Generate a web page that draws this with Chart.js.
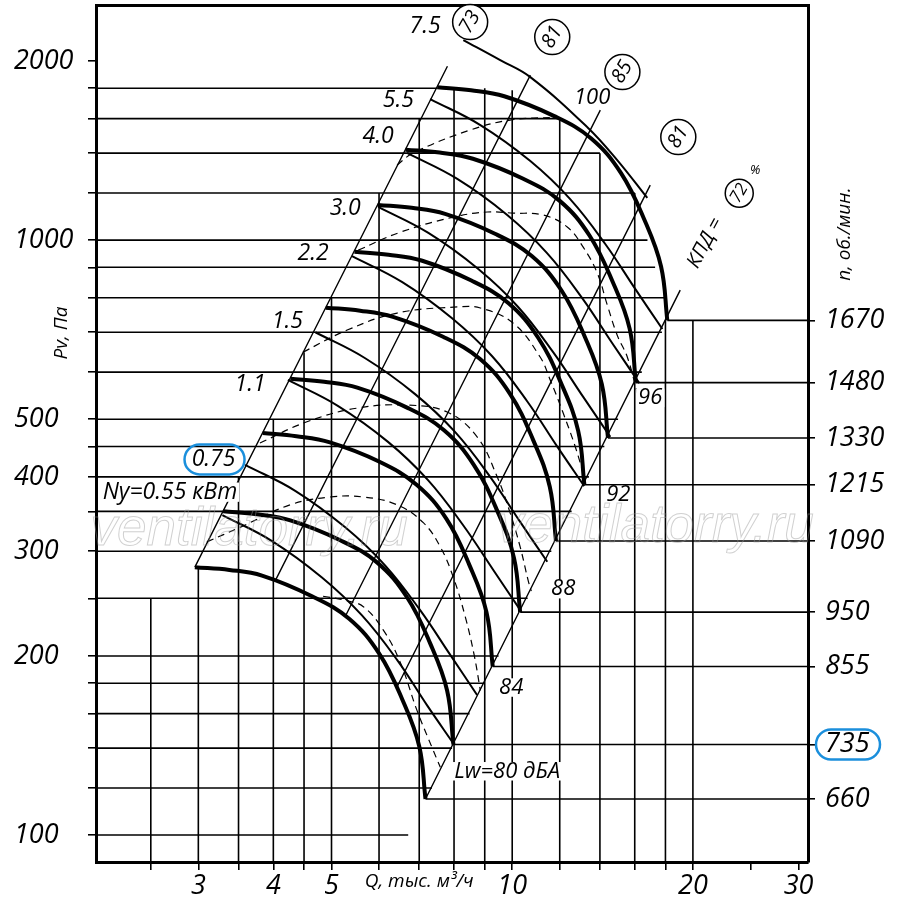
<!DOCTYPE html>
<html>
<head>
<meta charset="utf-8">
<script src="https://cdn.jsdelivr.net/npm/chart.js@4.4.1/dist/chart.umd.min.js"></script>
<style>
  html, body { margin: 0; padding: 0; background: #fff; }
  #wrap { width: 900px; height: 902px; }
</style>
</head>
<body>
<div id="wrap"><canvas id="fanChart" width="900" height="902"></canvas></div>
<script>
// axis ranges (Q, тыс. м3/ч and Pv, Па)
const QMIN = 2.026, QMAX = 31.1;
const PMIN = 90.1, PMAX = 2484;

// tick values
const xTicks = [2.5, 3, 3.5, 4, 4.5, 5, 6, 7, 8, 9, 10, 12, 14, 16, 18, 20, 25, 30];
const xLabels = [3, 4, 5, 10, 20, 30];
const yTicks = [100, 120, 140, 160, 180, 200, 250, 300, 350, 400, 450, 500, 600, 700, 800, 900, 1000, 1200, 1400, 1600, 1800, 2000];
const yLabels = [100, 200, 300, 400, 500, 1000, 2000];

// fan speeds, об./мин.
const rpm = [660, 735, 855, 950, 1090, 1215, 1330, 1480, 1670];

// fan curves Pv(Q) for each speed
const q660 = [2.96, 3.38, 3.83, 4.64, 5.35, 6.00, 6.56, 7.00, 7.17];
const p660 = [282, 279, 273, 252, 231, 202, 169, 141, 115];
const q735 = [3.30, 3.76, 4.27, 5.17, 5.96, 6.68, 7.30, 7.79, 7.98];
const p735 = [350, 346, 338, 313, 287, 251, 210, 175, 142];
const q855 = [3.84, 4.37, 4.97, 6.01, 6.93, 7.77, 8.49, 9.06, 9.28];
const p855 = [474, 468, 457, 424, 388, 340, 284, 237, 192];
const q950 = [4.27, 4.86, 5.52, 6.68, 7.70, 8.63, 9.44, 10.07, 10.31];
const p950 = [585, 578, 565, 523, 479, 419, 351, 292, 237];
const q1090 = [4.89, 5.58, 6.33, 7.67, 8.84, 9.91, 10.83, 11.55, 11.83];
const p1090 = [770, 761, 743, 688, 631, 552, 462, 385, 312];
const q1215 = [5.46, 6.22, 7.06, 8.55, 9.85, 11.04, 12.07, 12.88, 13.19];
const p1215 = [956, 945, 924, 855, 784, 686, 574, 478, 388];
const q1330 = [5.97, 6.80, 7.73, 9.36, 10.78, 12.09, 13.21, 14.10, 14.44];
const p1330 = [1146, 1133, 1107, 1025, 940, 822, 688, 573, 465];
const q1480 = [6.64, 7.57, 8.60, 10.41, 12.00, 13.45, 14.70, 15.69, 16.07];
const p1480 = [1419, 1403, 1370, 1269, 1164, 1018, 851, 710, 576];
const q1670 = [7.50, 8.54, 9.70, 11.75, 13.54, 15.18, 16.59, 17.70, 18.13];
const p1670 = [1807, 1786, 1745, 1616, 1482, 1296, 1084, 903, 733];

// motor power lines, кВт
const pw055Q = [3.29, 3.98, 4.82, 5.62, 6.43, 7.22, 8.00];
const pw055P = [345, 312, 271, 234, 197, 165, 142];
const pw075Q = [3.59, 4.35, 5.27, 6.14, 7.02, 7.88, 8.74];
const pw075P = [419, 379, 329, 284, 239, 201, 172];
const pw11Q = [4.23, 5.13, 6.21, 7.24, 8.28, 9.30, 10.31];
const pw11P = [582, 526, 458, 395, 332, 279, 239];
const pw15Q = [4.70, 5.69, 6.89, 8.03, 9.19, 10.31, 11.44];
const pw15P = [700, 633, 551, 476, 400, 336, 288];
const pw22Q = [5.41, 6.56, 7.94, 9.26, 10.59, 11.88, 13.18];
const pw22P = [940, 850, 739, 638, 536, 450, 386];
const pw30Q = [5.98, 7.25, 8.78, 10.23, 11.70, 13.13, 14.57];
const pw30P = [1137, 1028, 894, 772, 648, 545, 467];
const pw40Q = [6.68, 8.10, 9.81, 11.43, 13.08, 14.68, 16.28];
const pw40P = [1401, 1267, 1102, 951, 799, 671, 575];
const pw55Q = [7.30, 8.85, 10.72, 12.49, 14.29, 16.04, 17.79];
const pw55P = [1726, 1561, 1358, 1172, 985, 827, 709];
const pw75Q = [8.29, 9.55, 10.72, 13.34, 14.96, 16.79];
const pw75P = [2169, 2007, 1879, 1548, 1363, 1177];

// dashed curves
const dashAQ = [4.84, 5.27, 5.65, 6.10, 6.51, 6.94, 7.36, 7.59];
const dashAP = [252, 248, 242, 221, 195, 162, 140, 130];
const dashBQ = [3.10, 3.52, 4.27, 4.97, 5.65, 6.43, 7.11, 7.59, 7.98, 8.35, 8.64, 8.85];
const dashBP = [311, 329, 359, 370, 370, 359, 335, 305, 271, 233, 201, 175];
const dashCQ = [3.80, 4.55, 5.52, 6.68, 7.79, 8.74, 9.44, 9.92, 10.31, 10.63, 10.76];
const dashCP = [456, 495, 522, 528, 514, 467, 400, 348, 305, 268, 257];
const dashDQ = [4.48, 5.31, 6.43, 8.10, 8.85, 10.04, 11.13, 11.57, 12.16, 12.74, 13.23];
const dashDP = [648, 706, 754, 772, 769, 725, 636, 582, 512, 449, 395];
const dashEQ = [5.54, 6.51, 7.98, 9.09, 10.04, 11.26, 12.35, 13.13, 13.86, 14.40, 14.96, 15.55, 16.16];
const dashEP = [962, 1031, 1093, 1115, 1110, 1102, 1052, 973, 880, 778, 692, 636, 553];
const dashFQ = [6.43, 6.84, 8.51, 9.92, 11.89];
const dashFP = [1337, 1401, 1531, 1591, 1609];

// efficiency rays (bottom and top end)
const rayLeftQ = [2.96, 7.80], rayLeftP = [282, 1960];
const ray81aQ = [4.04, 10.72], ray81aP = [269, 1894];
const ray85Q = [5.27, 14.02], ray85P = [233, 1654];
const ray81bQ = [6.42, 16.98], ray81bP = [177, 1237];
const rayRightQ = [7.17, 19.05], rayRightP = [115, 824];

// grid: horizontal lines (Pv) and where they stop, vertical lines (Q) and their tops
const hGridP = [100, 120, 140, 160, 180, 200, 250, 300, 350, 400, 450, 500, 600, 700, 800, 900, 1000, 1200, 1400, 1600, 1800];
const hGridEnd = [6.71, 7.35, 7.94, 8.49, 9.00, 9.49, 10.61, 11.62, 12.56, 13.42, 14.24, 15.01, 16.44, 17.76, 17.9, 17.3, 16.8, 16.0, 14.0, 12.0, 7.5];
const vGridQ = [2.5, 3, 3.5, 4, 4.5, 5, 6, 7, 8, 9, 10, 12, 14, 16, 18, 20];
const vGridTop = [250, 282, 400, 500, 648, 800, 1200, 1600, 1800, 1800, 1786, 1600, 1400, 1200, 733, 733];

// text on the field: [text, Q, Pv]
const powerNotes = [
  ["7.5", 7.16, 2289], ["5.5", 6.46, 1719], ["4.0", 5.98, 1495], ["3.0", 5.27, 1132],
  ["2.2", 4.66, 951], ["1.5", 4.22, 731], ["1.1", 3.66, 571], ["Ny=0.55 кВт", 2.69, 377]
];
const noiseNotes = [["100", 13.59, 1733], ["96", 16.98, 543], ["92", 15.02, 373], ["88", 12.16, 259], ["84", 9.96, 177], ["Lw=80 дБА", 9.81, 128]];
const ringNotes = [["73", 8.51, 2325], ["81", 11.66, 2194], ["85", 15.26, 1916], ["81", 18.91, 1490]];

const FONT = '"Open Sans", "DejaVu Sans", sans-serif';
const BLUE = '#1b8fdc';

const pts = (qs, ps) => qs.map((q, i) => ({ x: q, y: ps[i] }));

const fanSets = [[q660, p660], [q735, p735], [q855, p855], [q950, p950], [q1090, p1090],
  [q1215, p1215], [q1330, p1330], [q1480, p1480], [q1670, p1670]];
const powerSets = [[pw055Q, pw055P], [pw075Q, pw075P], [pw11Q, pw11P], [pw15Q, pw15P], [pw22Q, pw22P],
  [pw30Q, pw30P], [pw40Q, pw40P], [pw55Q, pw55P], [pw75Q, pw75P]];
const dashSets = [[dashAQ, dashAP], [dashBQ, dashBP], [dashCQ, dashCP], [dashDQ, dashDP], [dashEQ, dashEP], [dashFQ, dashFP]];
const raySets = [[rayLeftQ, rayLeftP], [ray81aQ, ray81aP], [ray85Q, ray85P], [ray81bQ, ray81bP], [rayRightQ, rayRightP]];
const rpmEndP = fanSets.map((s) => s[1][s[1].length - 1]);

// first pushed = drawn on top
const datasets = [];
const addLine = (data, width, dash) => datasets.push({
  data: data, borderColor: "#000", borderWidth: width, borderDash: dash || [],
  pointRadius: 0, fill: false, tension: 0.4, borderJoinStyle: "round",
});

fanSets.forEach(([qs, ps]) => addLine(pts(qs, ps), 4));
powerSets.forEach(([qs, ps]) => addLine(pts(qs, ps), 2));
dashSets.forEach(([qs, ps]) => addLine(pts(qs, ps), 1.2, [7, 5]));
raySets.forEach(([qs, ps]) => addLine(pts(qs, ps), 1.4));
fanSets.forEach(([qs, ps]) => {
  const n = qs.length - 1;
  addLine([{ x: qs[n], y: ps[n] }, { x: QMAX, y: ps[n] }], 1.6);
});
hGridP.forEach((p, i) => addLine([{ x: QMIN, y: p }, { x: hGridEnd[i], y: p }], 1.6));
vGridQ.forEach((q, i) => addLine([{ x: q, y: PMIN }, { x: q, y: vGridTop[i] }], 1.6));

function note(ctx, text, x, y, size, knock) {
  ctx.font = "italic " + size + "px " + FONT;
  ctx.textAlign = "center";
  ctx.textBaseline = "middle";
  if (knock) {
    const w = ctx.measureText(text).width;
    ctx.fillStyle = "#fff";
    ctx.fillRect(x - w / 2 - 2, y - size * 0.42, w + 4, size * 0.84);
  }
  ctx.fillStyle = "#000";
  ctx.fillText(text, x, y);
}

function rotNote(ctx, text, x, y, ang, size) {
  ctx.save();
  ctx.translate(x, y);
  ctx.rotate(ang);
  ctx.font = "italic " + size + "px " + FONT;
  ctx.textAlign = "center";
  ctx.textBaseline = "middle";
  ctx.fillStyle = "#000";
  ctx.fillText(text, 0, 0);
  ctx.restore();
}

function ring(ctx, text, x, y, r, size) {
  ctx.beginPath();
  ctx.arc(x, y, r, 0, Math.PI * 2);
  ctx.fillStyle = "#fff";
  ctx.fill();
  ctx.lineWidth = 1.5;
  ctx.strokeStyle = "#000";
  ctx.stroke();
  rotNote(ctx, text, x, y, -Math.PI / 3, size);
}

function blueBox(ctx, x, y, w, h) {
  ctx.beginPath();
  ctx.roundRect(x - w / 2, y - h / 2, w, h, h / 2);
  ctx.lineWidth = 2.5;
  ctx.strokeStyle = BLUE;
  ctx.stroke();
}

const annotate = {
  id: "annotate",
  beforeDraw(chart) {
    const ctx = chart.ctx;
    ctx.save();
    ctx.fillStyle = "#fff";
    ctx.fillRect(0, 0, chart.width, chart.height);
    ctx.restore();
  },
  afterDraw(chart) {
    const { ctx, chartArea, scales: { x, y, y2 } } = chart;
    const px = (q) => x.getPixelForValue(q);
    const py = (p) => y.getPixelForValue(p);
    ctx.save();

    powerNotes.forEach(([t, q, p]) => note(ctx, t, px(q), py(p), 23, true));
    noiseNotes.forEach(([t, q, p]) => note(ctx, t, px(q), py(p), 22, true));

    // 0.75 kW, highlighted
    const x075 = px(3.18), y075 = py(428);
    note(ctx, "0.75", x075, y075, 23, true);
    blueBox(ctx, x075 + 1, y075, 60, 30);

    ringNotes.forEach(([t, q, p]) => ring(ctx, t, px(q), py(p), 17.5, 20));

    // КПД = 72 %
    rotNote(ctx, "КПД =", px(20.97), py(989), -1.08, 20);
    ring(ctx, "72", px(23.89), py(1199), 14, 17);
    note(ctx, "%", px(25.4), py(1310), 13, false);

    // 735 rpm highlighted on the right axis
    blueBox(ctx, chartArea.right + 40, y2.getPixelForValue(rpmEndP[1]), 64, 30);

    // axis titles
    rotNote(ctx, "Pv, Па", chartArea.left - 34, py(698), -Math.PI / 2, 19);
    rotNote(ctx, "n, об./мин.", chartArea.right + 37, py(1023), -Math.PI / 2, 19);

    // watermark
    ctx.font = "italic 53px \"Liberation Sans\", sans-serif";
    ctx.textAlign = "center";
    ctx.textBaseline = "middle";
    ctx.lineWidth = 1;
    ctx.strokeStyle = "rgba(150,150,150,0.45)";
    ctx.strokeText("ventilatorry.ru", px(3.645), py(325));
    ctx.strokeText("ventilatorry.ru", px(17.31), py(329));
    ctx.restore();
  },
};

const tickGrid = (len) => ({ drawOnChartArea: false, drawTicks: true, tickLength: len, color: "#000", lineWidth: 1.6 });
const frame = { display: true, color: "#000", width: 3 };
// keep the plot box fixed: no extra room for the outer tick labels
const noPad = (s) => { s.paddingTop = 0; s.paddingBottom = 0; s.paddingLeft = 0; s.paddingRight = 0; };

new Chart(document.getElementById("fanChart"), {
  type: "line",
  data: { datasets: datasets },
  options: {
    responsive: false,
    animation: false,
    events: [],
    devicePixelRatio: 1,
    layout: { padding: { left: 14, top: 0, right: 0, bottom: 0 } },
    plugins: { legend: { display: false }, tooltip: { enabled: false } },
    scales: {
      x: {
        type: "logarithmic", position: "bottom", min: QMIN, max: QMAX,
        afterBuildTicks: (s) => { s.ticks = xTicks.map((v) => ({ value: v })); },
        afterFit: (s) => { s.height = 40; noPad(s); },
        grid: tickGrid(8),
        border: frame,
        ticks: {
          autoSkip: false, maxRotation: 0, minRotation: 0, padding: 0, color: "#000",
          font: (c) => (c.tick && c.tick.value === 7)
            ? { family: FONT, size: 19, style: "italic" }
            : { family: FONT, size: 27, style: "italic" },
          callback: (v) => (v === 7 ? "Q, тыс. м³/ч" : (xLabels.includes(v) ? String(v) : "")),
        },
      },
      x2: {
        type: "linear", position: "top", min: 0, max: 1,
        afterFit: (s) => { s.height = 5; noPad(s); },
        grid: { display: false, drawTicks: false },
        border: frame,
        ticks: { display: false },
      },
      y: {
        type: "logarithmic", position: "left", min: PMIN, max: PMAX,
        afterBuildTicks: (s) => { s.ticks = yTicks.map((v) => ({ value: v })); },
        afterFit: (s) => { s.width = 82; noPad(s); },
        grid: tickGrid(8),
        border: frame,
        ticks: {
          autoSkip: false, crossAlign: "far", padding: 0, color: "#000",
          font: { family: FONT, size: 27, style: "italic" },
          callback: (v) => (yLabels.includes(v) ? String(v) : ""),
        },
      },
      y2: {
        type: "logarithmic", position: "right", min: PMIN, max: PMAX,
        afterBuildTicks: (s) => { s.ticks = rpmEndP.map((v) => ({ value: v })); },
        afterFit: (s) => { s.width = 92; noPad(s); },
        grid: tickGrid(7),
        border: frame,
        ticks: {
          autoSkip: false, padding: 10, color: "#000",
          font: { family: FONT, size: 27, style: "italic" },
          callback: (v, i) => String(rpm[i]),
        },
      },
    },
  },
  plugins: [annotate],
});
</script>
</body>
</html>
